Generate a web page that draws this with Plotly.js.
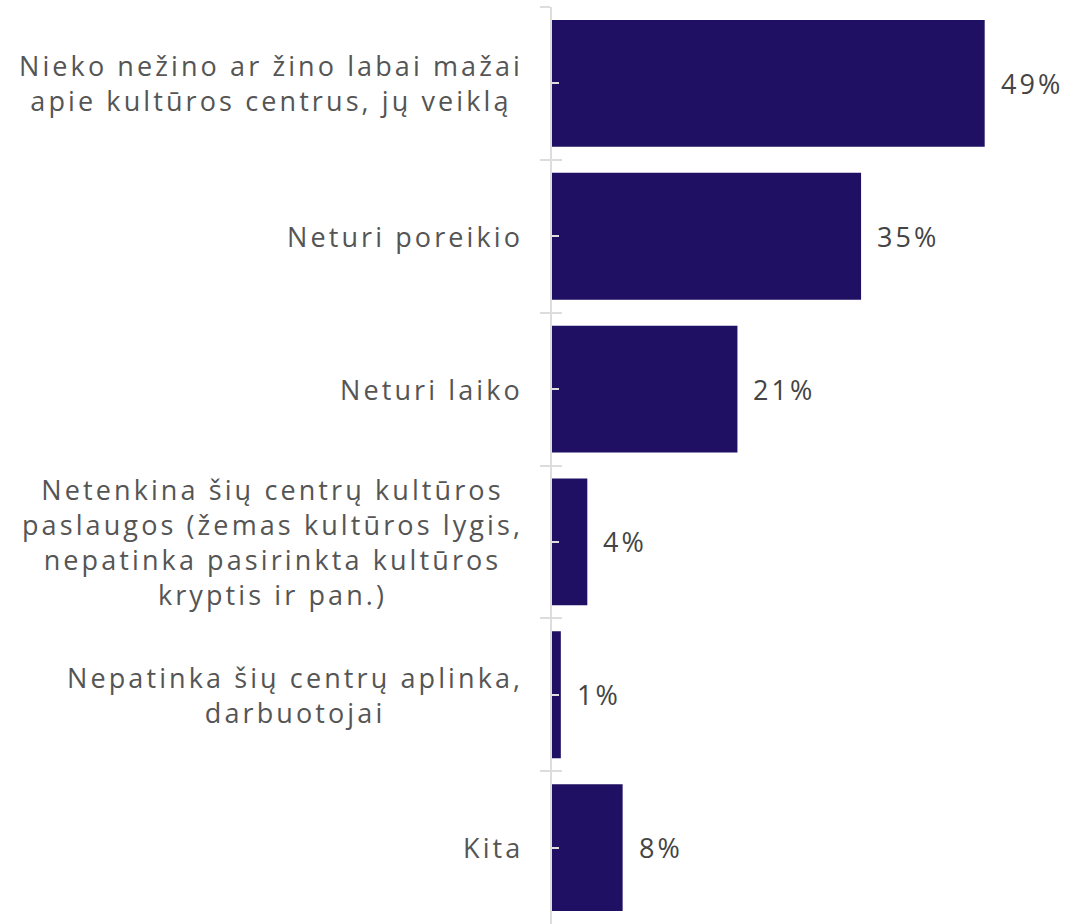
<!DOCTYPE html>
<html>
<head>
<meta charset="utf-8">
<script src="https://cdn.plot.ly/plotly-3.0.1.min.js"></script>
<style>
html,body{margin:0;padding:0;background:#fff;}
#chart{width:1073px;height:924px;}
text.annotation-text{letter-spacing:3.1px;}
</style>
</head>
<body>
<div id="chart"></div>
<script>
const categories = [
  "Nieko nežino ar žino labai mažai<br>apie kultūros centrus, jų veiklą",
  "Neturi poreikio",
  "Neturi laiko",
  "Netenkina šių centrų kultūros<br>paslaugos (žemas kultūros lygis,<br>nepatinka pasirinkta kultūros<br>kryptis ir pan.)",
  "Nepatinka šių centrų aplinka,<br>darbuotojai",
  "Kita"
];
const values = [49, 35, 21, 4, 1, 8];
const valueLabels = ["49%", "35%", "21%", "4%", "1%", "8%"];

const FONT = "Open Sans, sans-serif";
const trace = {
  type: "bar",
  orientation: "h",
  x: values,
  y: categories,
  marker: {color: "#1f1063"},
  hoverinfo: "none"
};

const annotations = [];
categories.forEach((c, i) => {
  annotations.push({
    xref: "paper", yref: "y", x: 0, y: c, text: c,
    xanchor: "right", yanchor: "middle", align: "center", xshift: -27,
    showarrow: false, font: {family: FONT, size: 27, color: "#555555"}
  });
  annotations.push({
    xref: "x", yref: "y", x: values[i], y: c, text: valueLabels[i],
    xanchor: "left", yanchor: "middle", xshift: 14,
    showarrow: false, font: {family: FONT, size: 27, color: "#444444"}
  });
});

const layout = {
  width: 1073, height: 924,
  margin: {l: 552, r: 0, t: 7, b: 0},
  paper_bgcolor: "#ffffff", plot_bgcolor: "#ffffff",
  showlegend: false,
  bargap: 0.17,
  font: {family: FONT},
  xaxis: {range: [0, 59], showgrid: false, zeroline: false, showticklabels: false, showline: false, ticks: ""},
  yaxis: {
    type: "category", categoryarray: categories, categoryorder: "array", autorange: "reversed",
    showticklabels: false, showgrid: false, zeroline: false,
    showline: true, linecolor: "#dddddd", linewidth: 2,
    ticks: "outside", tickson: "boundaries", ticklen: 10, tickcolor: "#dddddd", tickwidth: 2
  },
  yaxis2: {
    matches: "y", overlaying: "y", side: "left", anchor: "x",
    showticklabels: false, showgrid: false, zeroline: false, showline: false,
    ticks: "inside", tickson: "boundaries", ticklen: 10, tickcolor: "#dddddd", tickwidth: 2
  },
  yaxis3: {
    matches: "y", overlaying: "y", side: "left", anchor: "x",
    showticklabels: false, showgrid: false, zeroline: false, showline: false,
    ticks: "inside", tickson: "labels", ticklen: 7, tickcolor: "#dddddd", tickwidth: 2
  },
  annotations: annotations
};

const ghost2 = {type: "bar", orientation: "h", x: values.map(() => 0), y: categories, yaxis: "y2", hoverinfo: "none", marker: {color: "rgba(0,0,0,0)"}};
const ghost3 = {type: "bar", orientation: "h", x: values.map(() => 0), y: categories, yaxis: "y3", hoverinfo: "none", marker: {color: "rgba(0,0,0,0)"}};

Plotly.newPlot("chart", [trace, ghost2, ghost3], layout, {displayModeBar: false, staticPlot: true});
</script>
</body>
</html>
